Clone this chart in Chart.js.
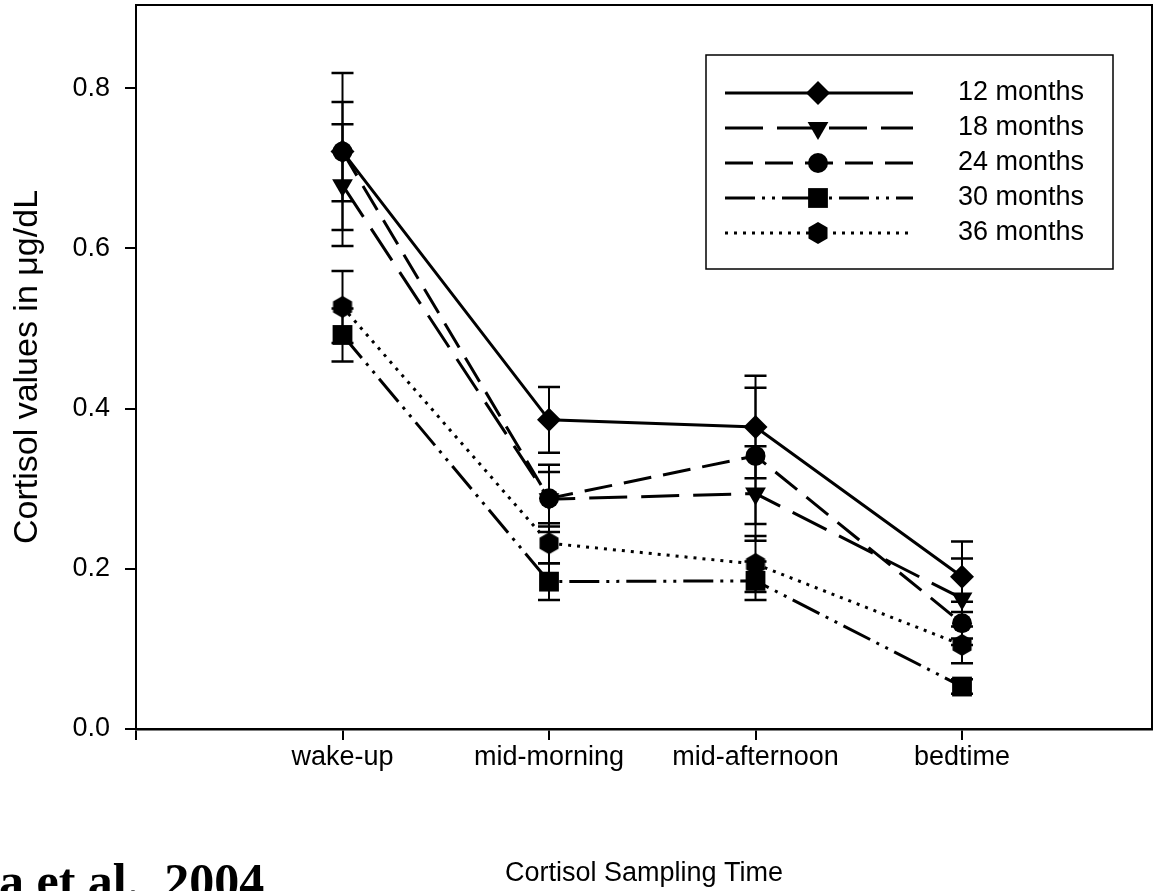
<!DOCTYPE html>
<html lang="en">
<head>
<meta charset="UTF-8">
<title>Cortisol Sampling Time</title>
<script src="https://cdn.jsdelivr.net/npm/chart.js@4.4.1/dist/chart.umd.min.js"></script>
<style>
  html, body { margin: 0; padding: 0; background: #fff; }
  #wrap { width: 1153px; height: 891px; }
</style>
</head>
<body>
<div id="wrap"><canvas id="cortisolChart" width="1153" height="891"></canvas></div>
<script>
// sampling times (x categories) and y tick values
const categories = ['wake-up', 'mid-morning', 'mid-afternoon', 'bedtime'];
const yTicks = [0, 0.2, 0.4, 0.6, 0.8];
const seriesNames = ['12 months', '18 months', '24 months', '30 months', '36 months'];

// mean cortisol (ug/dL) per age group
const m12 = [0.721, 0.386, 0.377, 0.190];
const m18 = [0.679, 0.287, 0.294, 0.163];
const m24 = [0.721, 0.288, 0.341, 0.132];
const m30 = [0.492, 0.184, 0.185, 0.053];
const m36 = [0.527, 0.232, 0.206, 0.105];

// error bar half-lengths
const e12 = [0.098, 0.041, 0.064, 0.044];
const e18 = [0.076, 0.034, 0.059, 0.050];
const e24 = [0.062, 0.042, 0.085, 0.027];
const e30 = [0.033, 0.023, 0.024, 0.009];
const e36 = [0.045, 0.025, 0.035, 0.023];

const FONT = "'Liberation Sans', Arial, sans-serif";
Chart.defaults.font.family = FONT;
Chart.defaults.color = '#000';

function makeHexagon(r) {
  const c = document.createElement('canvas');
  const w = Math.ceil(r * 2) + 2;
  c.width = w; c.height = w;
  const g = c.getContext('2d');
  g.beginPath();
  for (let k = 0; k < 6; k++) {
    const a = -Math.PI / 2 + k * Math.PI / 3;
    const px = w / 2 + r * Math.cos(a), py = w / 2 + r * Math.sin(a);
    if (k === 0) g.moveTo(px, py); else g.lineTo(px, py);
  }
  g.closePath();
  g.fillStyle = '#000';
  g.fill();
  return c;
}

const means = [m12, m18, m24, m30, m36];
const errs = [e12, e18, e24, e30, e36];
const dashes = [[], [38, 14], [28, 12], [30, 7, 3, 7, 3, 7], [3, 6]];
const markers = [
  { style: 'rectRot', radius: 12, rotation: 0 },
  { style: 'triangle', radius: 12, rotation: 180 },
  { style: 'circle', radius: 10, rotation: 0 },
  { style: 'rect', radius: 14, rotation: 0 },
  { style: makeHexagon(11), radius: 11, rotation: 0 }
];

const datasets = seriesNames.map((name, d) => ({
  label: name,
  data: categories.map((c, i) => ({ x: i + 1, y: means[d][i] })),
  borderColor: '#000',
  borderWidth: 3,
  borderDash: dashes[d],
  backgroundColor: '#000',
  pointStyle: markers[d].style,
  pointRadius: markers[d].radius,
  pointHoverRadius: markers[d].radius,
  pointRotation: markers[d].rotation,
  pointBackgroundColor: '#000',
  pointBorderColor: '#000',
  pointBorderWidth: 0,
  tension: 0,
  fill: false
}));

const errorBars = {
  id: 'errorBars',
  beforeDatasetsDraw(chart) {
    const { ctx, scales: { x, y } } = chart;
    ctx.save();
    ctx.strokeStyle = '#000';
    chart.data.datasets.forEach((ds, d) => {
      ds.data.forEach((pt, i) => {
        const px = x.getPixelForValue(pt.x);
        const top = y.getPixelForValue(pt.y + errs[d][i]);
        const bot = y.getPixelForValue(pt.y - errs[d][i]);
        ctx.lineWidth = 2;
        ctx.beginPath();
        ctx.moveTo(px, top); ctx.lineTo(px, bot);
        ctx.stroke();
        ctx.lineWidth = 2.5;
        ctx.beginPath();
        ctx.moveTo(px - 11, top); ctx.lineTo(px + 11, top);
        ctx.moveTo(px - 11, bot); ctx.lineTo(px + 11, bot);
        ctx.stroke();
      });
    });
    ctx.restore();
  }
};

const frameAndLegend = {
  id: 'frameAndLegend',
  afterDraw(chart) {
    const { ctx, chartArea: a } = chart;
    ctx.save();
    // top + right frame
    ctx.strokeStyle = '#000';
    ctx.lineWidth = 2;
    ctx.beginPath();
    ctx.moveTo(a.left, a.top); ctx.lineTo(a.right, a.top); ctx.lineTo(a.right, a.bottom);
    ctx.stroke();

    // legend box
    ctx.fillStyle = '#fff';
    ctx.fillRect(706, 55, 407, 214);
    ctx.lineWidth = 1.5;
    ctx.strokeRect(706, 55, 407, 214);
    seriesNames.forEach((name, d) => {
      const ry = 93 + d * 35;
      ctx.lineWidth = 3;
      ctx.setLineDash(dashes[d]);
      ctx.beginPath();
      ctx.moveTo(725, ry); ctx.lineTo(913, ry);
      ctx.stroke();
      ctx.setLineDash([]);
      ctx.fillStyle = '#000';
      if (Chart.helpers && Chart.helpers.drawPoint) {
        Chart.helpers.drawPoint(ctx, {
          pointStyle: markers[d].style, radius: markers[d].radius,
          rotation: markers[d].rotation, borderWidth: 0
        }, 818, ry);
      }
      ctx.font = '27px ' + FONT;
      ctx.textAlign = 'left';
      ctx.textBaseline = 'middle';
      ctx.fillText(name, 958, ry);
    });

    // cropped citation at bottom left
    ctx.font = "bold 50px 'Liberation Serif', serif";
    ctx.textBaseline = 'alphabetic';
    ctx.fillText('a et al., 2004', -1, 898);
    ctx.restore();
  }
};

new Chart(document.getElementById('cortisolChart').getContext('2d'), {
  type: 'line',
  data: { datasets: datasets },
  options: {
    responsive: false,
    devicePixelRatio: 1,
    animation: false,
    events: [],
    layout: { autoPadding: false, padding: { top: 5, right: 1, left: 0, bottom: 0 } },
    plugins: { legend: { display: false }, tooltip: { enabled: false } },
    scales: {
      x: {
        type: 'linear',
        min: 0,
        max: 4.92,
        afterBuildTicks: s => { s.ticks = [0, 1, 2, 3, 4].map(v => ({ value: v })); },
        afterFit: s => { s.height = 162; s.paddingLeft = 0; s.paddingRight = 0; },
        ticks: {
          callback: v => categories[v - 1] || '',
          font: { size: 27 },
          color: '#000',
          padding: 1,
          maxRotation: 0,
          autoSkip: false
        },
        grid: { drawOnChartArea: false, drawTicks: true, tickLength: 11, color: '#000', lineWidth: 2 },
        border: { display: true, color: '#000', width: 2.5 },
        title: {
          display: true, text: 'Cortisol Sampling Time', color: '#000',
          font: { size: 27 }, padding: { top: 0, bottom: 1 }
        }
      },
      y: {
        min: 0,
        max: 0.904,
        afterBuildTicks: s => { s.ticks = yTicks.map(v => ({ value: v })); },
        afterFit: s => { s.width = 136; s.paddingTop = 0; s.paddingBottom = 0; },
        ticks: {
          callback: v => v.toFixed(1),
          font: { size: 27 },
          color: '#000',
          padding: 15
        },
        grid: { drawOnChartArea: false, drawTicks: true, tickLength: 11, color: '#000', lineWidth: 2 },
        border: { display: true, color: '#000', width: 2 },
        title: {
          display: true, text: 'Cortisol values in μg/dL', color: '#000',
          font: { size: 34 }, padding: { top: 7, bottom: 0 }
        }
      }
    }
  },
  plugins: [errorBars, frameAndLegend]
});
</script>
</body>
</html>
